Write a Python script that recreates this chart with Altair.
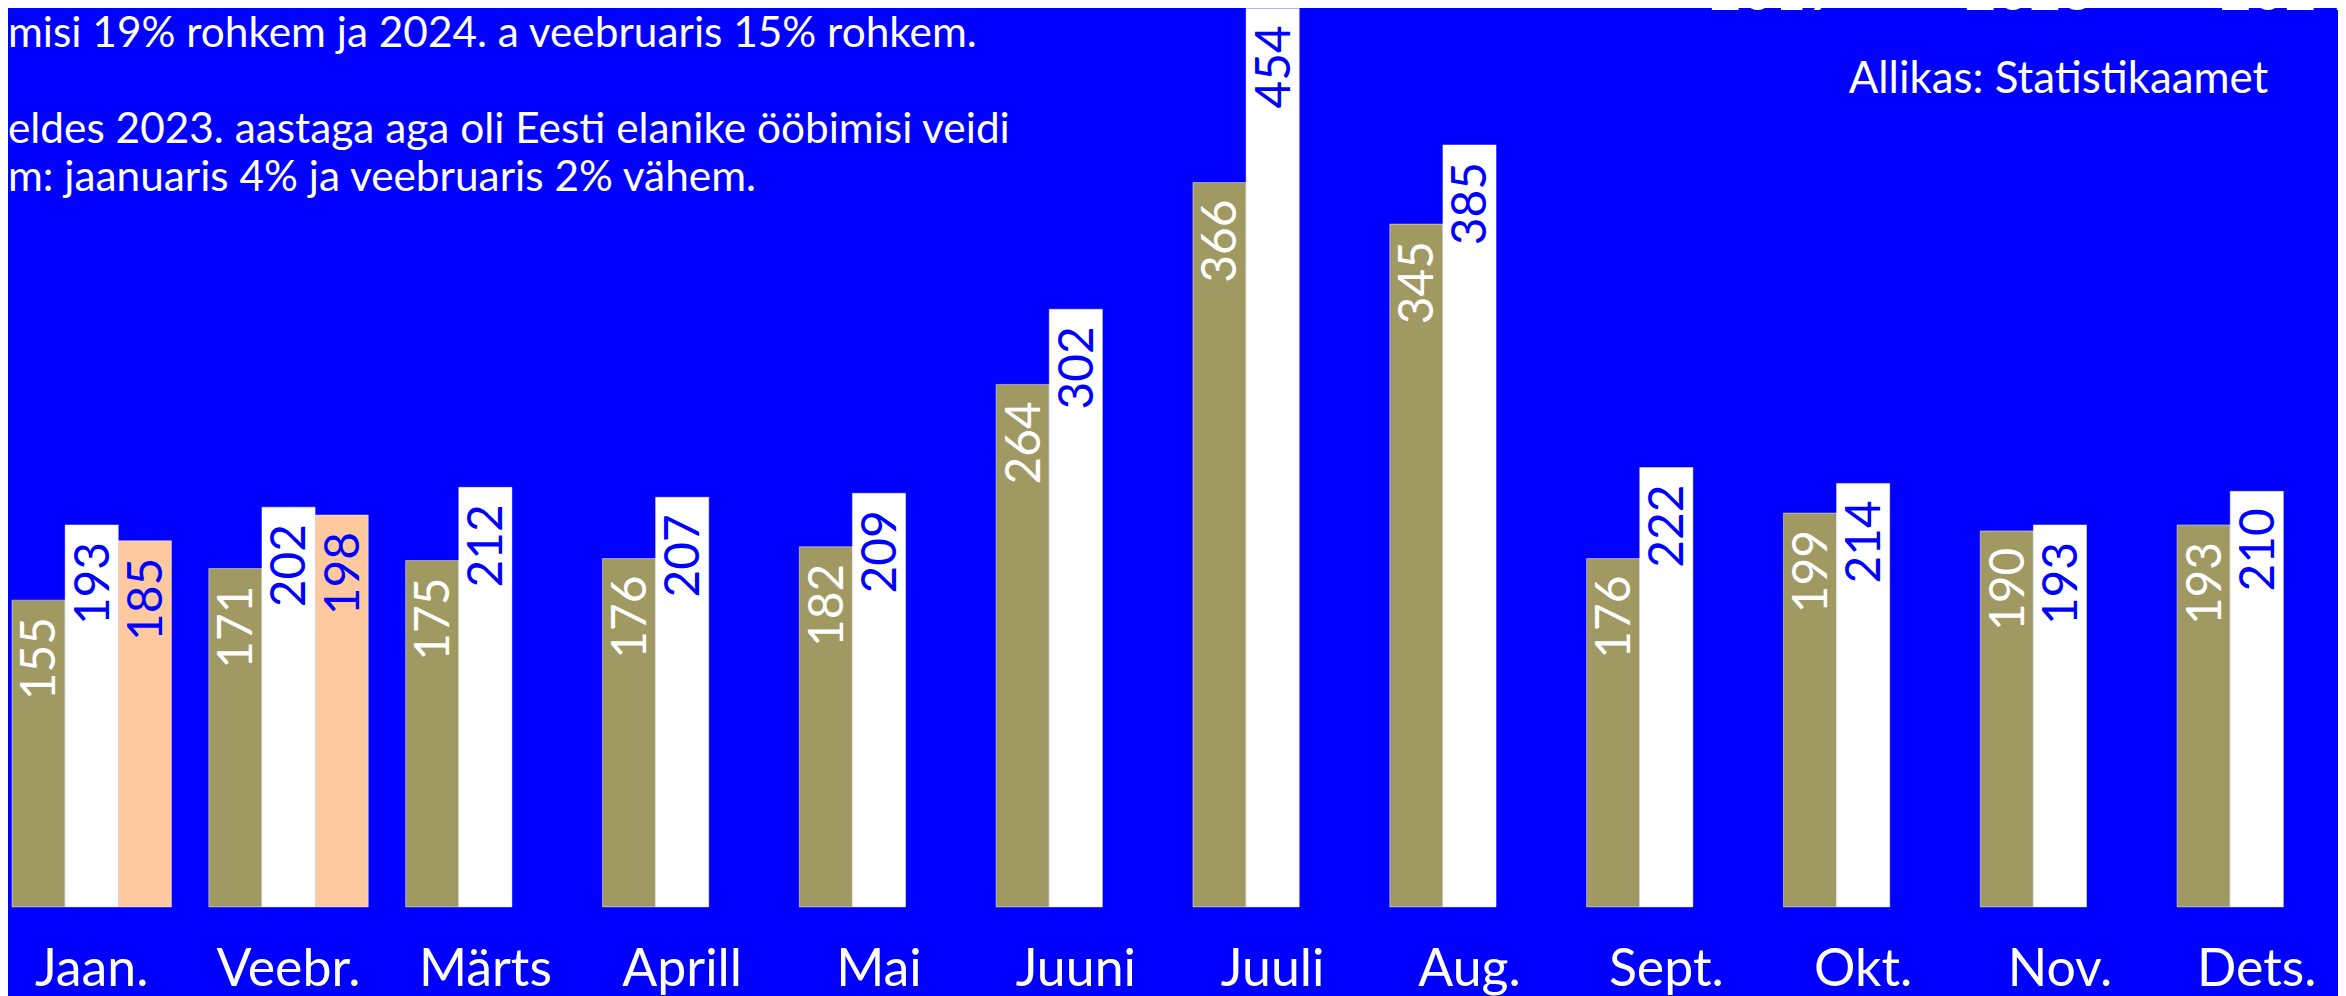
import altair as alt
import pandas as pd

# ---- data ----
months = ["Jaan.", "Veebr.", "Märts", "Aprill", "Mai", "Juuni",
          "Juuli", "Aug.", "Sept.", "Okt.", "Nov.", "Dets."]
years = ["2019", "2023", "2024"]
values_2019 = [155, 171, 175, 176, 182, 264, 366, 345, 176, 199, 190, 193]
values_2023 = [193, 202, 212, 207, 209, 302, 454, 385, 222, 214, 193, 210]
values_2024 = [185, 198]  # Jaan., Veebr.
bar_colors = ["#a09a62", "#ffffff", "#ffc9a0"]

note_par1 = ["misi 19% rohkem ja 2024. a veebruaris 15% rohkem."]
note_par2 = [
    "eldes 2023. aastaga aga oli Eesti elanike ööbimisi veidi",
    "m: jaanuaris 4% ja veebruaris 2% vähem.",
]
source_text = "Allikas: Statistikaamet"

BLUE = "#0000ff"
FONT = "Lato"

rows = []
for m, v in zip(months, values_2019):
    rows.append({"month": m, "year": "2019", "value": v})
for m, v in zip(months, values_2023):
    rows.append({"month": m, "year": "2023", "value": v})
for m, v in zip(months, values_2024):
    rows.append({"month": m, "year": "2024", "value": v})
df = pd.DataFrame(rows)

x_enc = alt.X("month:N", sort=months,
              scale=alt.Scale(range=[4, 2336.5], paddingInner=0.19, paddingOuter=0),
              axis=alt.Axis(title=None, labelAngle=0, labelFontSize=52, labelColor="white",
                            labelFont=FONT, domain=False, ticks=False, tickSize=0,
                            labelPadding=79, labelBaseline="alphabetic", grid=False))
xo_enc = alt.XOffset("year:N", sort=years,
                     scale=alt.Scale(domain=years, paddingInner=0, paddingOuter=0))
y_enc = alt.Y("value:Q", scale=alt.Scale(domain=[0, 454], range=[900.3, -1.3], nice=False),
              axis=None)

base = alt.Chart(df)

bars = base.mark_bar(stroke="#ffffff", strokeOpacity=0.45, strokeWidth=1).encode(
    x=x_enc,
    xOffset=xo_enc,
    y=y_enc,
    color=alt.Color("year:N", sort=years,
                    scale=alt.Scale(domain=years, range=bar_colors),
                    legend=alt.Legend(title=None, orient="none", legendX=1637, legendY=-45,
                                      direction="horizontal", symbolType="square",
                                      symbolSize=841, symbolStrokeWidth=0,
                                      labelFontSize=56, labelColor="white", labelFont=FONT,
                                      labelOffset=14, columnPadding=56, padding=0)),
)

labels = base.mark_text(angle=270, align="right", baseline="middle", dx=-17, dy=3,
                        fontSize=48, font=FONT).encode(
    x=x_enc,
    xOffset=xo_enc,
    y=y_enc,
    text=alt.Text("value:Q"),
    color=alt.condition(alt.datum.year == "2019", alt.value("white"), alt.value(BLUE)),
)

one = pd.DataFrame({"k": [0]})
notes1 = alt.Chart(one).mark_text(text=note_par1, align="left", baseline="alphabetic",
                                  fontSize=42.5, lineHeight=48, font=FONT, color="white").encode(
    x=alt.value(0), y=alt.value(37.7))
notes2 = alt.Chart(one).mark_text(text=note_par2, align="left", baseline="alphabetic",
                                  fontSize=42.5, lineHeight=48, font=FONT, color="white").encode(
    x=alt.value(0), y=alt.value(133.7))

source = alt.Chart(one).mark_text(text=source_text, align="right", baseline="alphabetic",
                                  fontSize=44, font=FONT, color="white").encode(
    x=alt.value(2268), y=alt.value(84))

chart = alt.layer(bars, labels, notes1, notes2, source).properties(
    width=2338, height=900.3,
    autosize=alt.AutoSizeParams(type="none"),
    padding={"left": 0, "top": 0, "right": 0, "bottom": 88},
    background=BLUE,
).configure_view(stroke=None)

chart.save("out.html", embed_options={"renderer": "svg", "actions": False})
